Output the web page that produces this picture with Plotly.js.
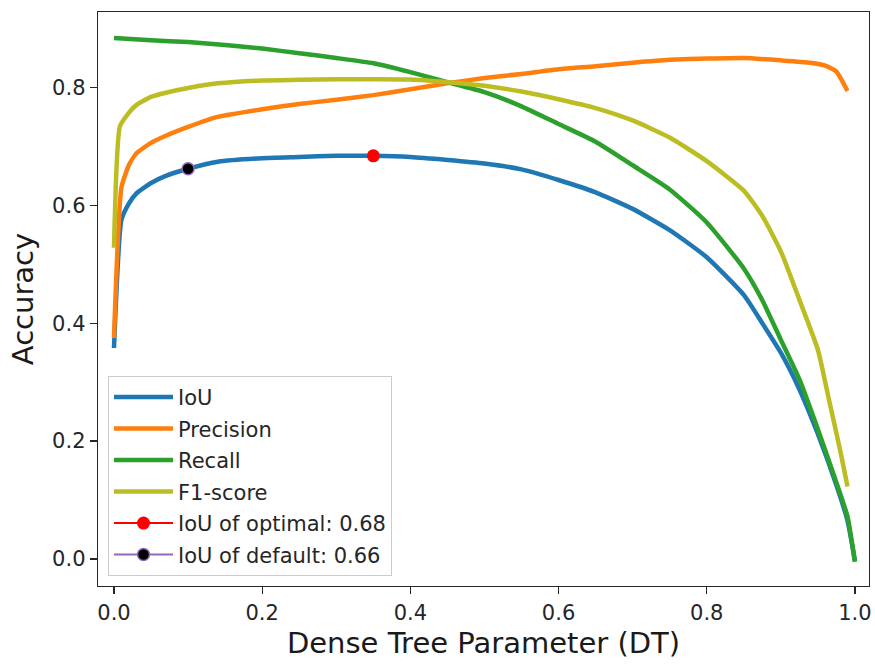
<!DOCTYPE html>
<html>
<head>
<meta charset="utf-8">
<script src="https://cdn.plot.ly/plotly-3.0.1.min.js"></script>
<style>html,body{margin:0;padding:0;background:#fff;}</style>
</head>
<body>
<div id="chart" style="width:875px;height:665px;"></div>
<script>
// IoU
const iouX = [0.0, 0.01, 0.02, 0.03, 0.05, 0.07, 0.1, 0.14, 0.2, 0.25, 0.3, 0.35, 0.4, 0.45, 0.5, 0.55, 0.6, 0.65, 0.7, 0.75, 0.8, 0.85, 0.875, 0.9, 0.925, 0.95, 0.975, 0.99, 1.0];
const iouY = [0.358, 0.575, 0.603, 0.620, 0.638, 0.650, 0.662, 0.674, 0.680, 0.682, 0.684, 0.684, 0.682, 0.677, 0.671, 0.661, 0.643, 0.622, 0.594, 0.558, 0.512, 0.448, 0.400, 0.350, 0.288, 0.212, 0.125, 0.065, -0.003];
// Precision
const precX = [0.0, 0.01, 0.02, 0.03, 0.05, 0.07, 0.1, 0.14, 0.2, 0.25, 0.3, 0.35, 0.4, 0.45, 0.5, 0.55, 0.6, 0.65, 0.7, 0.75, 0.8, 0.85, 0.9, 0.94, 0.96, 0.975, 0.99];
const precY = [0.375, 0.630, 0.668, 0.688, 0.706, 0.718, 0.733, 0.750, 0.763, 0.772, 0.779, 0.787, 0.797, 0.807, 0.816, 0.823, 0.831, 0.836, 0.842, 0.847, 0.849, 0.850, 0.846, 0.842, 0.837, 0.827, 0.794];
// Recall
const recX = [0.0, 0.05, 0.1, 0.15, 0.2, 0.25, 0.3, 0.35, 0.4, 0.45, 0.5, 0.55, 0.6, 0.65, 0.7, 0.75, 0.8, 0.85, 0.875, 0.9, 0.925, 0.95, 0.975, 0.99, 1.0];
const recY = [0.884, 0.880, 0.877, 0.872, 0.866, 0.858, 0.850, 0.841, 0.826, 0.809, 0.792, 0.768, 0.738, 0.708, 0.668, 0.627, 0.571, 0.493, 0.439, 0.372, 0.305, 0.220, 0.130, 0.072, -0.005];
// F1-score
const f1X = [0.0, 0.008, 0.02, 0.03, 0.05, 0.07, 0.1, 0.14, 0.2, 0.25, 0.3, 0.35, 0.4, 0.45, 0.5, 0.55, 0.6, 0.65, 0.7, 0.75, 0.8, 0.85, 0.875, 0.9, 0.925, 0.95, 0.965, 0.98, 0.99];
const f1Y = [0.528, 0.734, 0.757, 0.770, 0.784, 0.791, 0.799, 0.807, 0.812, 0.813, 0.814, 0.814, 0.8135, 0.809, 0.803, 0.793, 0.780, 0.765, 0.744, 0.715, 0.675, 0.625, 0.582, 0.522, 0.440, 0.355, 0.270, 0.185, 0.123];
// Highlight points
const optX = [0.35], optY = [0.684];
const defX = [0.1], defY = [0.662];
const seriesNames = ['IoU', 'Precision', 'Recall', 'F1-score', 'IoU of optimal: 0.68', 'IoU of default: 0.66'];
const xTicks = [0, 0.2, 0.4, 0.6, 0.8, 1.0];
const xTickText = ['0.0', '0.2', '0.4', '0.6', '0.8', '1.0'];
const yTicks = [0, 0.2, 0.4, 0.6, 0.8];
const yTickText = ['0.0', '0.2', '0.4', '0.6', '0.8'];

const font = 'DejaVu Sans, sans-serif';
const lw = 4.5;
const sp = {shape: 'spline', smoothing: 0.5};
const traces = [
  {x: iouX, y: iouY, name: seriesNames[0], legendgroup: 'a', mode: 'lines', line: Object.assign({color: '#1f77b4', width: lw}, sp)},
  {x: precX, y: precY, name: seriesNames[1], legendgroup: 'b', mode: 'lines', line: Object.assign({color: '#ff7f0e', width: lw}, sp)},
  {x: recX, y: recY, name: seriesNames[2], legendgroup: 'c', mode: 'lines', line: Object.assign({color: '#2ca02c', width: lw}, sp)},
  {x: f1X, y: f1Y, name: seriesNames[3], legendgroup: 'd', mode: 'lines', line: Object.assign({color: '#bcbd22', width: lw}, sp)},
  {x: optX, y: optY, name: seriesNames[4], legendgroup: 'e', mode: 'lines+markers', line: {color: '#ff0000', width: 2},
   marker: {color: '#ff0000', size: 13, line: {width: 0}}},
  {x: defX, y: defY, name: seriesNames[5], legendgroup: 'f', mode: 'lines+markers', line: {color: '#9467bd', width: 2},
   marker: {color: '#000000', size: 12, line: {color: '#9467bd', width: 1.5}}}
];

const axisCommon = {
  showline: true, mirror: true, linecolor: '#262626', linewidth: 1.3,
  ticks: 'outside', ticklen: 7, tickwidth: 1.3, tickcolor: '#262626',
  showgrid: false, zeroline: false,
  tickfont: {family: font, size: 21, color: '#262626'},
  automargin: false
};

const layout = {
  width: 875, height: 665,
  margin: {l: 98, r: 6, t: 12, b: 79},
  paper_bgcolor: '#ffffff', plot_bgcolor: '#ffffff',
  font: {family: font, color: '#262626'},
  showlegend: true,
  hovermode: false,
  xaxis: Object.assign({}, axisCommon, {
    range: [-0.0216, 1.019], tickmode: 'array', tickvals: xTicks, ticktext: xTickText,
    title: {text: 'Dense Tree Parameter (DT)', font: {family: font, size: 29, color: '#1a1a1a'}, standoff: 9}
  }),
  yaxis: Object.assign({}, axisCommon, {
    range: [-0.0458, 0.928], tickmode: 'array', tickvals: yTicks, ticktext: yTickText,
    title: {text: 'Accuracy', font: {family: font, size: 29, color: '#1a1a1a'}, standoff: 10}
  }),
  legend: {
    x: 0.013, y: 0.366, xanchor: 'left', yanchor: 'top',
    bgcolor: 'rgba(255,255,255,0.8)', bordercolor: '#cccccc', borderwidth: 1,
    font: {family: font, size: 21, color: '#262626'},
    itemwidth: 59, traceorder: 'grouped', tracegroupgap: 1.2
  }
};

Plotly.newPlot('chart', traces, layout, {displayModeBar: false, staticPlot: true});
</script>
</body>
</html>
